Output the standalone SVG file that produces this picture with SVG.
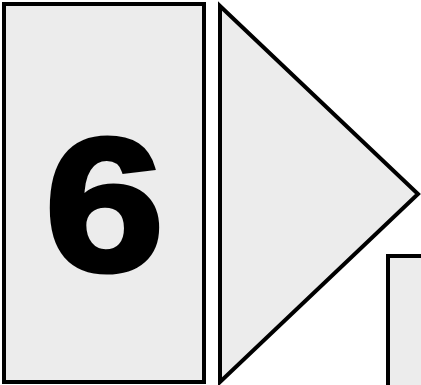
<svg xmlns="http://www.w3.org/2000/svg" width="421" height="385" viewBox="0 0 421 385">
<style>
.s{fill:#ececec;stroke:#000;stroke-width:4;stroke-linejoin:miter}
.t{font-family:"Liberation Sans",Arial,sans-serif;font-weight:bold;font-size:190px;fill:#000;stroke:#000;stroke-width:5;text-anchor:middle}
</style>
<rect width="421" height="385" fill="#fff"/>
<g id="card">
<rect class="s" x="4" y="4" width="200" height="378"/>
<text class="t" x="0" y="270" transform="translate(104.5 0) scale(1.13 1)">6</text>
</g>
<g id="arrow">
<polygon class="s" points="220,6 418,194 220,382"/>
</g>
<g id="next">
<rect class="s" x="388" y="256" width="60" height="160"/>
</g>
<g id="connectors"/>
</svg>
